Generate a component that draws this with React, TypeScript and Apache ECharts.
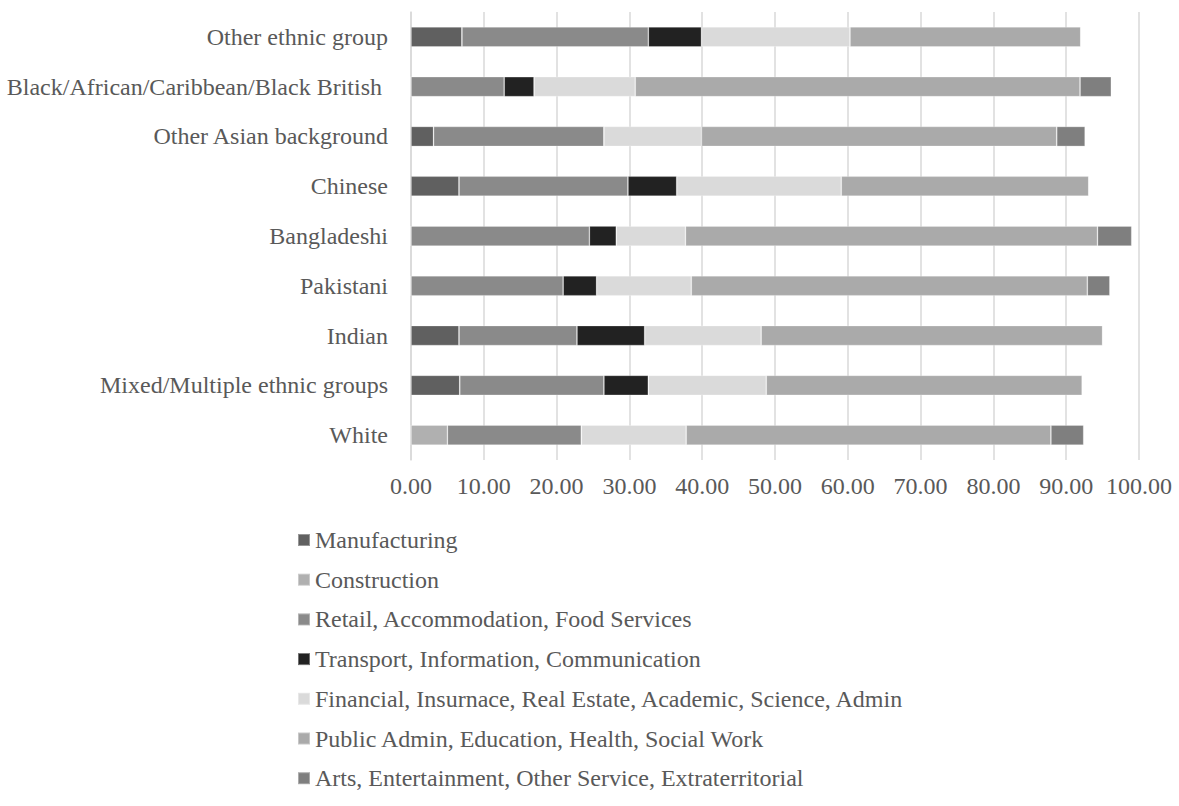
import React, { useEffect, useRef } from "react";
import * as echarts from "echarts";

// Ethnic groups, listed bottom to top on the category axis
const groups = [
  "White",
  "Mixed/Multiple ethnic groups",
  "Indian",
  "Pakistani",
  "Bangladeshi",
  "Chinese",
  "Other Asian background",
  "Black/African/Caribbean/Black British ",
  "Other ethnic group",
];

const industries = [
  "Manufacturing",
  "Construction",
  "Retail, Accommodation, Food Services",
  "Transport, Information, Communication",
  "Financial, Insurnace, Real Estate, Academic, Science, Admin",
  "Public Admin, Education, Health, Social Work",
  "Arts, Entertainment, Other Service, Extraterritorial",
];

// Share of workers (%) per industry, in the same order as `groups`
const manufacturing = [0, 6.7, 6.6, 0, 0, 6.6, 3.1, 0, 7.0];
const construction = [5.0, 0, 0, 0, 0, 0, 0, 0, 0];
const retail = [18.4, 19.8, 16.2, 20.9, 24.5, 23.2, 23.4, 12.8, 25.6];
const transport = [0, 6.1, 9.3, 4.6, 3.7, 6.7, 0, 4.1, 7.3];
const financial = [14.4, 16.2, 16.0, 13.0, 9.5, 22.6, 13.4, 13.9, 20.4];
const publicAdmin = [50.1, 43.4, 46.9, 54.4, 56.6, 34.0, 48.8, 61.1, 31.7];
const arts = [4.5, 0, 0, 3.1, 4.7, 0, 3.9, 4.3, 0];

const seriesData = [manufacturing, construction, retail, transport, financial, publicAdmin, arts];
const colors = ["#606060", "#b0b0b0", "#8a8a8a", "#222222", "#dadada", "#aaaaaa", "#7f7f7f"];

const xTicks = { min: 0, max: 100, interval: 10 };

const FONT = "Liberation Serif";
const TEXT = "#595959";

export default function App() {
  const ref = useRef<HTMLDivElement>(null);

  useEffect(() => {
    document.body.style.margin = "0";
    if (!ref.current) return;
    const chart = echarts.init(ref.current, undefined, { renderer: "svg" });
    chart.setOption({
      animation: false,
      textStyle: { fontFamily: FONT, color: TEXT },
      grid: { left: 411, right: 40, top: 12, bottom: 346, containLabel: false },
      legend: {
        orient: "vertical",
        left: 292,
        top: 523,
        itemWidth: 12,
        itemHeight: 12,
        itemGap: 15.7,
        icon: "rect",
        data: industries,
        formatter: "{t|{name}}",
        textStyle: {
          fontFamily: FONT,
          fontSize: 24,
          color: TEXT,
          rich: { t: { fontFamily: FONT, fontSize: 24, color: TEXT } },
        },
      },
      xAxis: {
        type: "value",
        min: xTicks.min,
        max: xTicks.max,
        interval: xTicks.interval,
        axisLine: { show: false },
        axisTick: { show: false },
        splitLine: { show: true, lineStyle: { color: "#d9d9d9", width: 1.5 } },
        axisLabel: {
          fontFamily: FONT,
          fontSize: 24,
          color: TEXT,
          margin: 14,
          formatter: (v: number) => v.toFixed(2),
        },
      },
      yAxis: {
        type: "category",
        data: groups,
        axisLine: { show: true, lineStyle: { color: "#d9d9d9", width: 1.5 } },
        axisTick: { show: false },
        axisLabel: { fontFamily: FONT, fontSize: 24, color: TEXT, margin: 23 },
      },
      series: industries.map((name, i) => ({
        name,
        type: "bar",
        stack: "total",
        barWidth: 20,
        data: seriesData[i],
        itemStyle: { color: colors[i], borderColor: "rgba(255,255,255,0.35)", borderWidth: 0.75 },
      })),
    });
    return () => chart.dispose();
  }, []);

  return <div ref={ref} style={{ width: 1179, height: 806 }} />;
}
